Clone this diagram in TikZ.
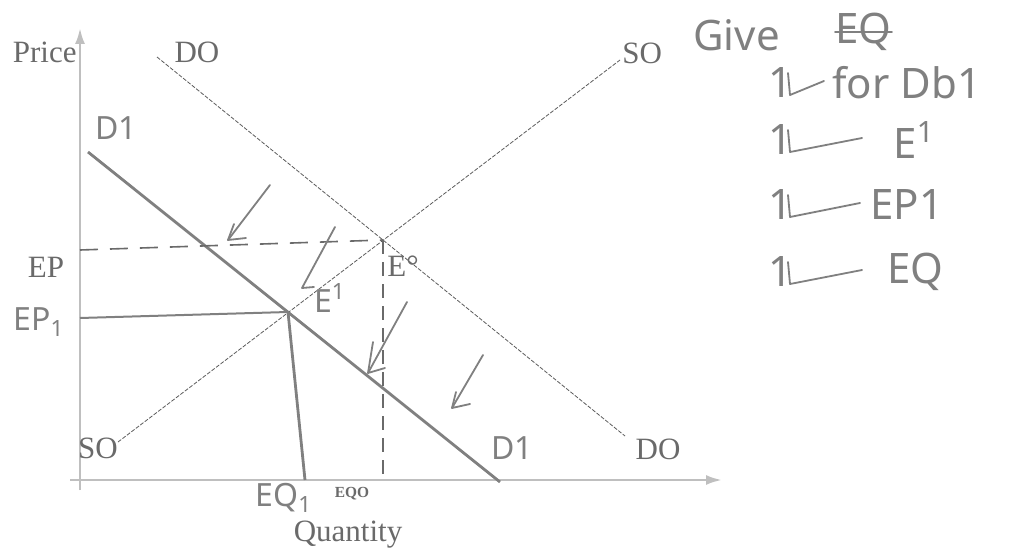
\documentclass[tikz,border=0pt]{standalone}
\usepackage{fontspec}
\setmainfont{Liberation Serif}
\newfontfamily\handfont{Noto Sans}
\usetikzlibrary{arrows.meta,positioning}
\definecolor{printgray}{HTML}{6A6A6A}
\definecolor{pencil}{HTML}{808080}
\definecolor{curvegray}{HTML}{5C5C5C}

\begin{document}
\begin{tikzpicture}[x=0.5pt,y=-0.5pt,>=Latex,
  lbl/.style={font=\fontsize{15.5}{18}\selectfont,text=printgray,inner sep=0pt},
  hand/.style={font=\handfont\fontsize{21}{24}\selectfont,text=pencil,inner sep=0pt},
  handlbl/.style={hand,font=\handfont\fontsize{16}{18}\selectfont},
  axis/.style={draw=gray!50,line width=1.3pt,-{Latex[length=8pt,width=5pt]}},
  curve/.style={draw=curvegray,line width=0.4pt,dash pattern=on 2pt off 0.8pt},
  guide/.style={draw=printgray,line width=0.8pt,dash pattern=on 9pt off 6pt},
  pencilline/.style={draw=pencil,line width=1.4pt},
  tickmark/.style={draw=pencil,line width=0.9pt,line cap=round,line join=round}]
\useasboundingbox[fill=white] (0,0) rectangle (1034,551);
% axes
\coordinate (ybot) at (80,490);\coordinate (ytop) at (80,28);
\coordinate (xbeg) at (70,480);\coordinate (xend) at (722,480);
\draw[axis] (ybot) -- (ytop);
\draw[axis] (xbeg) -- (xend);
% demand and supply
\coordinate (d0a) at (157,57);\coordinate (d0b) at (625,436);
\coordinate (s0a) at (118,442);\coordinate (s0b) at (620,60);
\coordinate (d1a) at (88,152);\coordinate (d1b) at (500,482);
\coordinate (E0) at (383,240);\coordinate (E1) at (288,312);
\draw[curve] (d0a) -- (d0b);
\draw[curve] (s0a) -- (s0b);
\draw[pencilline] (d1a) -- (d1b);
% equilibrium guides
\coordinate (ep) at (80,250);\coordinate (eq0) at (383,480);
\coordinate (ep1) at (80,318);\coordinate (eq1) at (305,480);
\draw[guide] (ep) -- (E0);
\draw[guide,dash pattern=on 7pt off 4pt] (E0) -- (eq0);
\draw[pencilline,line width=1pt] (ep1) -- (E1);
\draw[pencilline] (E1) -- (eq1);
% printed labels
\node[lbl,anchor=east] (price) at (77,52) {Price};
\node[lbl] (do top) at (197,52) {DO};
\node[lbl,anchor=west] (so top) at (622,53) {SO};
\node[lbl] (so bot) at (98,448) {SO};
\node[lbl] (do bot) at (658,449) {DO};
\node[lbl] (eplbl) at (46,267) {EP};
\node[lbl,anchor=west] (e0lbl) at (387,266) {E°};
\node[lbl,font=\fontsize{7.7}{9}\selectfont\bfseries] (eq0lbl) at (352,494) {EQO};
\node[lbl] (qty) at (348,535) {Quantity};
% handwritten labels
\node[handlbl] (d1top) at (116,128) {D1};
\node[handlbl] (d1bot) at (512,448) {D1};
\node[handlbl] (ep1lbl) at (39,322) {EP\textsubscript{1}};
\node[handlbl] (e1lbl) at (330,298) {E\textsuperscript{1}};
\node[handlbl] (eq1lbl) at (284,498) {EQ\textsubscript{1}};
% ticks on the graph
\draw[tickmark] (270,185) -- (228,240) -- (246,238);\draw[tickmark] (234,224) -- (228,240);
\draw[tickmark] (335,227) -- (302,288) -- (314,287);
\draw[tickmark] (407,302) -- (368,373) -- (385,368);\draw[tickmark] (373,342) -- (368,373);
\draw[tickmark] (483,355) -- (452,408) -- (470,404);\draw[tickmark] (456,392) -- (452,408);
% marking notes
\node[hand,anchor=west] (give) at (693,35) {Give};
\node[hand,anchor=west] (struck) at (835,32) {EQ};
\draw[tickmark] (struck.west) -- (struck.east);
\foreach \y/\txt/\tx/\cx in {83/for Db1/832/824,140/{E\textsuperscript{1}}/893/862,205/EP1/870/860,272/EQ/887/862} {
  \node[hand,anchor=west] (one\y) at (768,\y) {1};
  \draw[tickmark] (788,\y-10) -- (790,\y+12) -- (\cx,\y-2);
  \node[hand,anchor=west] (note\y) at (\tx,\y) {\txt};
}
\end{tikzpicture}
\end{document}
